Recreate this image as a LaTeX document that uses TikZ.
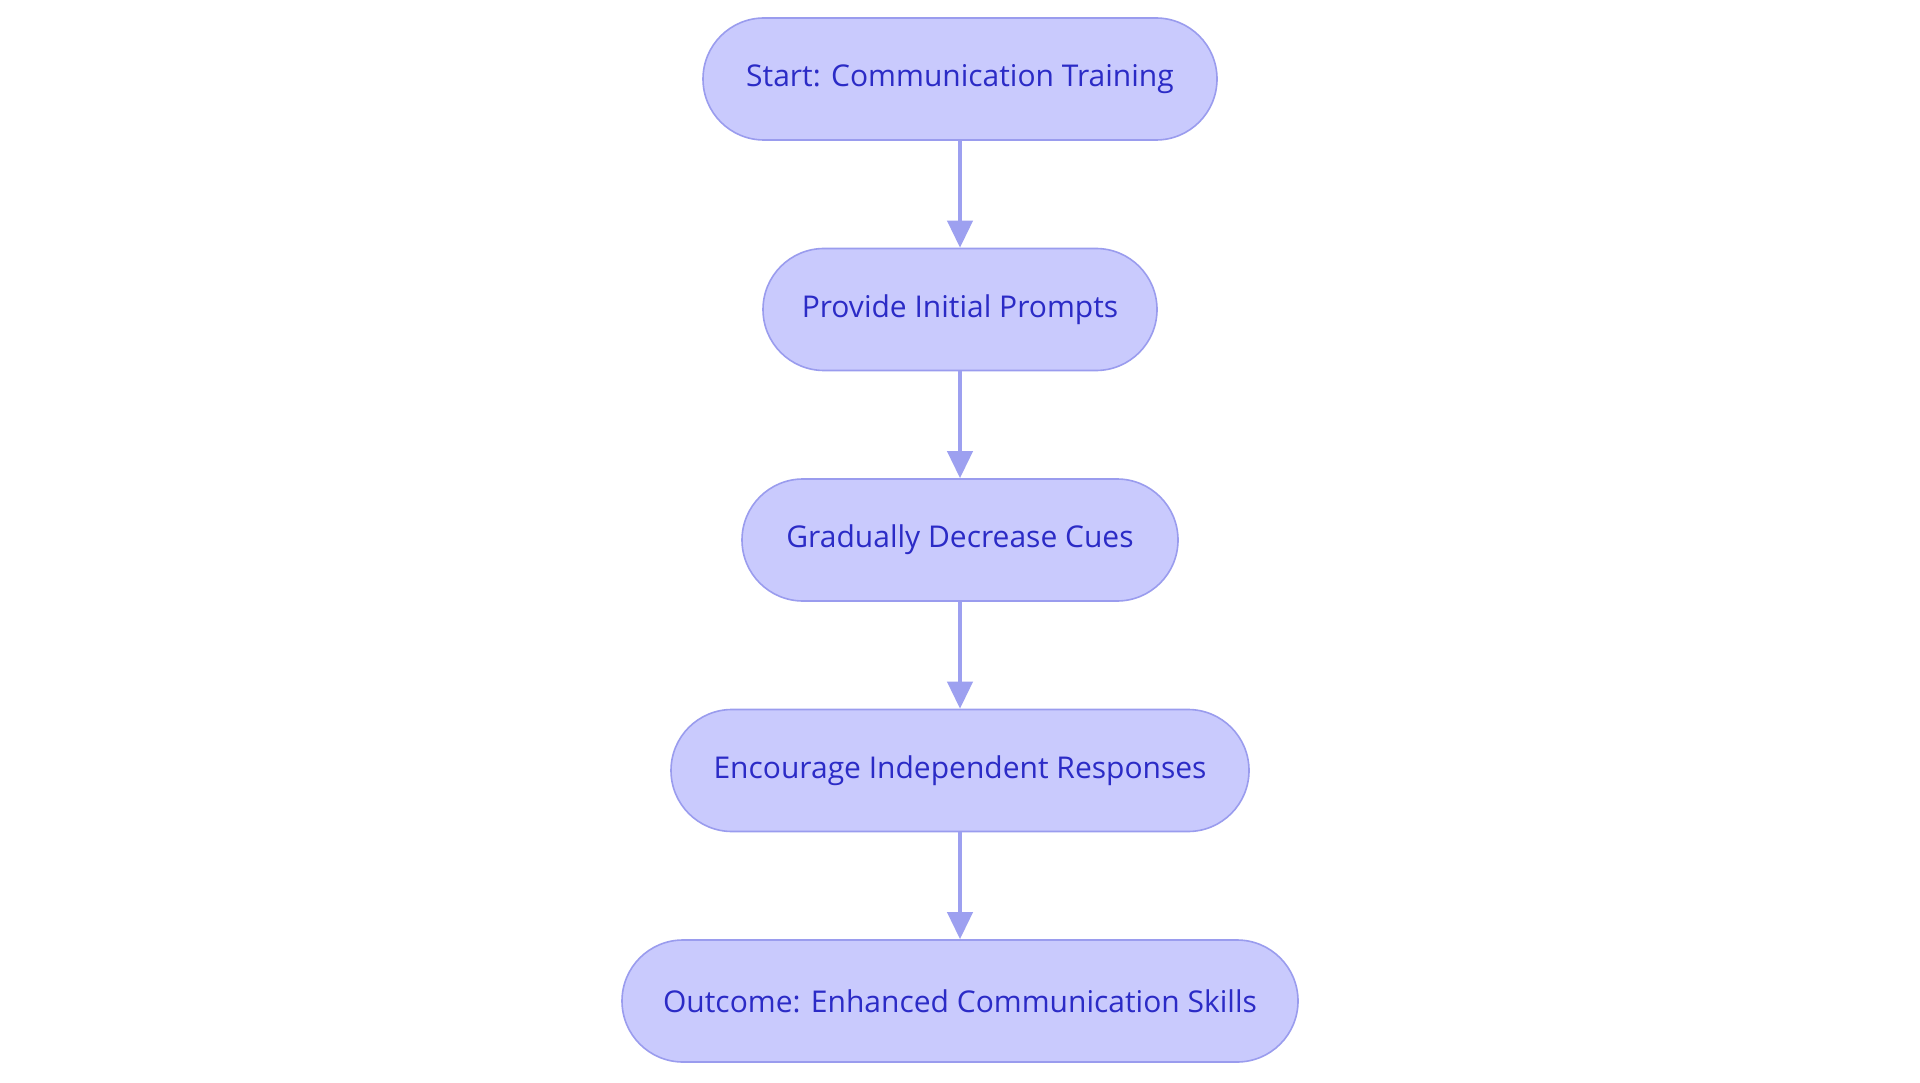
\documentclass[tikz,border=0pt]{standalone}
\usepackage{fontspec}
\setmainfont{Open Sans}
\usetikzlibrary{arrows.meta}
\definecolor{boxfill}{HTML}{C9CAFD}
\definecolor{boxline}{HTML}{9A9CEE}
\definecolor{boxtext}{HTML}{2B2BC6}
\definecolor{arrowcol}{HTML}{9DA0F0}
\tikzset{
  stadium/.style={draw=boxline, line width=1.6pt, fill=boxfill, rounded corners=61pt,
    minimum height=122pt, inner sep=0pt, text=boxtext,
    font=\fontsize{30pt}{35pt}\selectfont},
  flow/.style={draw=arrowcol, line width=4pt,
    -{Triangle[length=27pt,width=25pt]}, shorten >=0pt}
}
\begin{document}
\begin{tikzpicture}[x=1pt,y=-1pt]
\useasboundingbox (0,0) rectangle (1920,1083);
\fill[white] (0,0) rectangle (1920,1083);
\node[stadium, minimum width=514pt] (n1) at (960,79) {Start: Communication Training};
\node[stadium, minimum width=394pt] (n2) at (960,309.5) {Provide Initial Prompts};
\node[stadium, minimum width=436pt] (n3) at (960,540) {Gradually Decrease Cues};
\node[stadium, minimum width=578pt] (n4) at (960,770.5) {Encourage Independent Responses};
\node[stadium, minimum width=676pt] (n5) at (960,1001) {Outcome: Enhanced Communication Skills};
\draw[flow] (n1) -- (n2);
\draw[flow] (n2) -- (n3);
\draw[flow] (n3) -- (n4);
\draw[flow] (n4) -- (n5);
\end{tikzpicture}
\end{document}
